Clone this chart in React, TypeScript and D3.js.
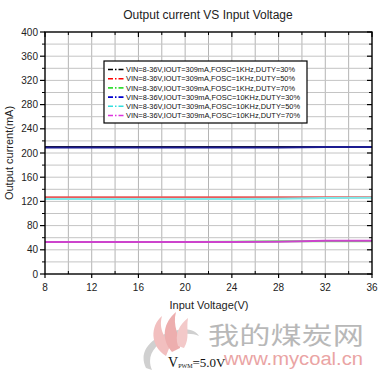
import React from "react";
import * as d3 from "d3";

const xValues = [8, 12, 16, 20, 24, 28, 32, 36];
const seriesNames = [
  "VIN=8-36V,IOUT=309mA,FOSC=1KHz,DUTY=30%",
  "VIN=8-36V,IOUT=309mA,FOSC=1KHz,DUTY=50%",
  "VIN=8-36V,IOUT=309mA,FOSC=1KHz,DUTY=70%",
  "VIN=8-36V,IOUT=309mA,FOSC=10KHz,DUTY=30%",
  "VIN=8-36V,IOUT=309mA,FOSC=10KHz,DUTY=50%",
  "VIN=8-36V,IOUT=309mA,FOSC=10KHz,DUTY=70%",
];
const black1k30 = [210, 210, 210, 210, 210, 210, 210, 210];
const red1k50 = [127, 127, 127, 127, 127, 127, 127, 127];
const green1k70 = [53, 53, 53, 53, 53.5, 54, 54, 54];
const blue10k30 = [209, 209, 209, 209, 209, 209, 210, 210];
const cyan10k50 = [124, 124, 124, 124, 124, 124.5, 125.5, 126];
const magenta10k70 = [53, 53, 53, 53, 53, 53.5, 55, 55];
const seriesValues = [black1k30, red1k50, green1k70, blue10k30, cyan10k50, magenta10k70];
const seriesColors = ["#111111", "#e85a5a", "#66ee66", "#1c1c90", "#80e8e8", "#cc44cc"];
const legendColors = ["#000000", "#ff0000", "#33dd33", "#0000cc", "#33dddd", "#dd33dd"];
const xTicks = [8, 12, 16, 20, 24, 28, 32, 36];
const yTicks = [0, 40, 80, 120, 160, 200, 240, 280, 320, 360, 400];

export default function App() {
  const left = 45, right = 372, top = 32, bottom = 274;
  const x = d3.scaleLinear().domain([8, 36]).range([left, right]);
  const y = d3.scaleLinear().domain([0, 400]).range([bottom, top]);
  const minorX = d3.range(10, 36, 4);
  const gridX = d3.range(10, 36, 2);
  const minorY = d3.range(20, 400, 40);
  const gridY = d3.range(20, 400, 20);
  const line = d3
    .line<number>()
    .x((_, i) => x(xValues[i]))
    .y((v) => y(v));

  const font = "'Liberation Sans', Arial, sans-serif";
  const serif = "'Liberation Serif', 'DejaVu Serif', serif";
  const legX = 104, legY = 61, legW = 203, legH = 62;
  return (
    <svg
      width={385}
      height={381}
      style={{ position: "absolute", left: 0, top: 0, background: "#fff" }}
      fontFamily={font}
    >
      <rect x={0} y={0} width={385} height={381} fill="#fff" />
      {/* grid */}
      {gridX.map((v) => (
        <line key={"gx" + v} x1={x(v)} x2={x(v)} y1={top} y2={bottom} stroke="#b4b4b4" strokeWidth={1} />
      ))}
      {gridY.map((v) => (
        <line key={"gy" + v} x1={left} x2={right} y1={y(v)} y2={y(v)} stroke="#c4c4c4" strokeWidth={1} />
      ))}
      {/* series */}
      {seriesValues.map((vals, i) => (
        <path key={"s" + i} d={line(vals) || ""} fill="none" stroke={seriesColors[i]} strokeWidth={2} />
      ))}
      {/* frame */}
      <rect x={left} y={top} width={right - left} height={bottom - top} fill="none" stroke="#000" strokeWidth={1.4} />
      {/* y ticks */}
      {yTicks.map((v) => (
        <g key={"yt" + v}>
          <line x1={left - 5} x2={left} y1={y(v)} y2={y(v)} stroke="#000" strokeWidth={1.2} />
          <line x1={right - 5} x2={right} y1={y(v)} y2={y(v)} stroke="#000" strokeWidth={1.2} />
          <text x={38} y={y(v) + 3.5} fontSize={10} textAnchor="end" fill="#222">
            {v}
          </text>
        </g>
      ))}
      {minorY.map((v) => (
        <g key={"ym" + v}>
          <line x1={left - 3} x2={left} y1={y(v)} y2={y(v)} stroke="#000" strokeWidth={1} />
          <line x1={right - 3} x2={right} y1={y(v)} y2={y(v)} stroke="#000" strokeWidth={1} />
        </g>
      ))}
      {/* x ticks */}
      {xTicks.map((v) => (
        <g key={"xt" + v}>
          <line x1={x(v)} x2={x(v)} y1={bottom} y2={bottom + 4} stroke="#000" strokeWidth={1.2} />
          <line x1={x(v)} x2={x(v)} y1={top} y2={top + 5} stroke="#000" strokeWidth={1.2} />
          <text x={x(v)} y={291} fontSize={10} textAnchor="middle" fill="#222">
            {v}
          </text>
        </g>
      ))}
      {minorX.map((v) => (
        <g key={"xm" + v}>
          <line x1={x(v)} x2={x(v)} y1={bottom - 3} y2={bottom} stroke="#000" strokeWidth={1} />
          <line x1={x(v)} x2={x(v)} y1={top} y2={top + 3} stroke="#000" strokeWidth={1} />
        </g>
      ))}
      {/* titles */}
      <text x={208} y={19} fontSize={12} textAnchor="middle" fill="#222">
        Output current VS Input Voltage
      </text>
      <text x={209} y={309} fontSize={11} textAnchor="middle" fill="#222">
        Input Voltage(V)
      </text>
      <text transform={`translate(13,153) rotate(-90)`} fontSize={11} textAnchor="middle" fill="#222">
        Output current(mA)
      </text>
      {/* legend */}
      <rect x={legX} y={legY} width={legW} height={legH} fill="#fff" stroke="#000" strokeWidth={1.2} />
      {seriesNames.map((name, i) => {
        const ry = legY + 8.5 + i * 9.2;
        return (
          <g key={"lg" + i}>
            <line x1={108} x2={125} y1={ry} y2={ry} stroke={legendColors[i]} strokeWidth={1.6} strokeDasharray="5,2,1.5,2" />
            <text
              x={126}
              y={ry + 2.6}
              fontSize={7.3}
              fill="#111"
              textLength={i < 3 ? 169 : 174}
              lengthAdjust="spacingAndGlyphs"
            >
              {name}
            </text>
          </g>
        );
      })}
      {/* watermark logo */}
      <g opacity={0.85}>
        <path d="M146,368 C138,352 150,336 178,330 C188,328 196,331 199,336 C192,333 182,333 172,337 C154,344 146,356 152,370 Z" fill="#c8c8c8" />
        <path d="M166,356 C150,346 150,326 162,316 C158,330 166,338 170,346 Z" fill="#f0b4b4" />
        <path d="M172,352 C160,338 164,322 176,312 C172,326 180,336 180,348 Z" fill="#eaa0a0" />
        <path d="M178,346 C174,334 180,324 188,318 C186,330 190,338 184,348 Z" fill="#f2c0c0" />
      </g>
      <text
        x={208}
        y={344}
        fontSize={24}
        fill="#b8b8b8"
        fontFamily="'Noto Sans CJK SC', sans-serif"
        textLength={156}
        lengthAdjust="spacingAndGlyphs"
      >
        我的煤炭网
      </text>
      <text x={224} y={365} fontSize={18} fill="#eaa4a4" textLength={139} lengthAdjust="spacingAndGlyphs">
        www.mycoal.cn
      </text>
      <text x={168} y={367} fontSize={14} fill="#111" fontFamily={serif}>
        V<tspan fontSize={6} dy={1}>PWM</tspan>
        <tspan dy={-1} fontSize={13}>=5.0V</tspan>
      </text>
    </svg>
  );
}
